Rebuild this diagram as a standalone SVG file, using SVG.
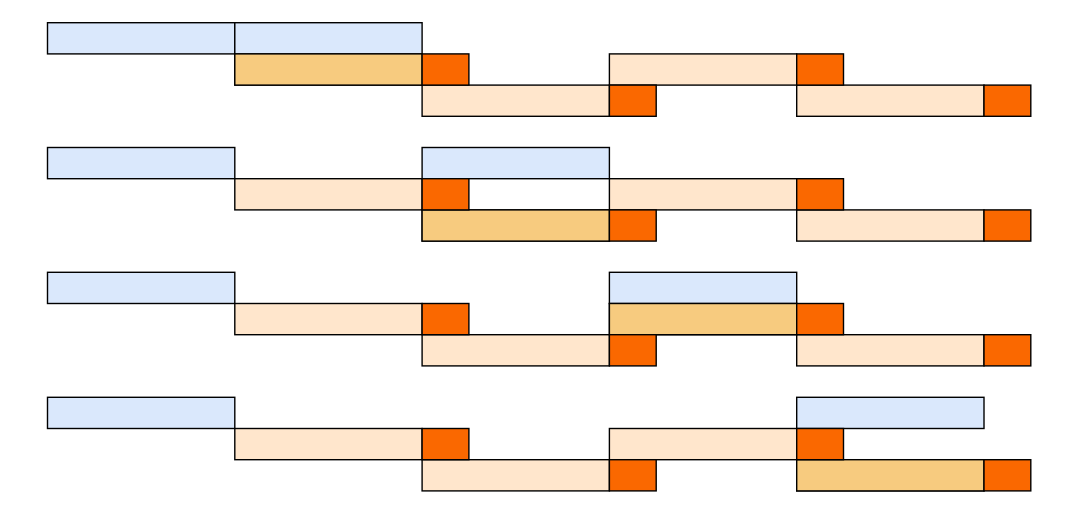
<svg xmlns="http://www.w3.org/2000/svg" width="1080" height="514" viewBox="0 0 1080 514">
<style>
rect{stroke:#000;stroke-width:1.4}
.b{fill:#dae8fc}.l{fill:#ffe6cc}.m{fill:#f7cb7f}.o{fill:#fa6800}
</style>
<defs>
<g id="base">
<rect class="b" x="47.5" y="0" width="187.3" height="31.2"/>
<rect class="l" x="234.8" y="31.2" width="187.3" height="31.2"/>
<rect class="l" x="609.4" y="31.2" width="187.3" height="31.2"/>
<rect class="l" x="422.1" y="62.4" width="187.3" height="31.2"/>
<rect class="l" x="796.7" y="62.4" width="187.3" height="31.2"/>
</g>
<g id="sq">
<rect class="o" x="422.1" y="31.2" width="46.8" height="31.2"/>
<rect class="o" x="796.7" y="31.2" width="46.8" height="31.2"/>
<rect class="o" x="609.4" y="62.4" width="46.8" height="31.2"/>
<rect class="o" x="984" y="62.4" width="46.8" height="31.2"/>
</g>
</defs>
<g id="block1" transform="translate(0,22.7)">
<use href="#base"/>
<rect class="b" x="234.8" y="0" width="187.3" height="31.2"/>
<rect class="m" x="234.8" y="31.2" width="187.3" height="31.2"/>
<use href="#sq"/>
</g>
<g id="block2" transform="translate(0,147.5)">
<use href="#base"/>
<rect class="b" x="422.1" y="0" width="187.3" height="31.2"/>
<rect class="m" x="422.1" y="62.4" width="187.3" height="31.2"/>
<use href="#sq"/>
</g>
<g id="block3" transform="translate(0,272.3)">
<use href="#base"/>
<rect class="b" x="609.4" y="0" width="187.3" height="31.2"/>
<rect class="m" x="609.4" y="31.2" width="187.3" height="31.2"/>
<use href="#sq"/>
</g>
<g id="block4" transform="translate(0,397.3)">
<use href="#base"/>
<rect class="b" x="796.7" y="0" width="187.3" height="31.2"/>
<rect class="m" x="796.7" y="62.4" width="187.3" height="31.2"/>
<use href="#sq"/>
</g>
</svg>
